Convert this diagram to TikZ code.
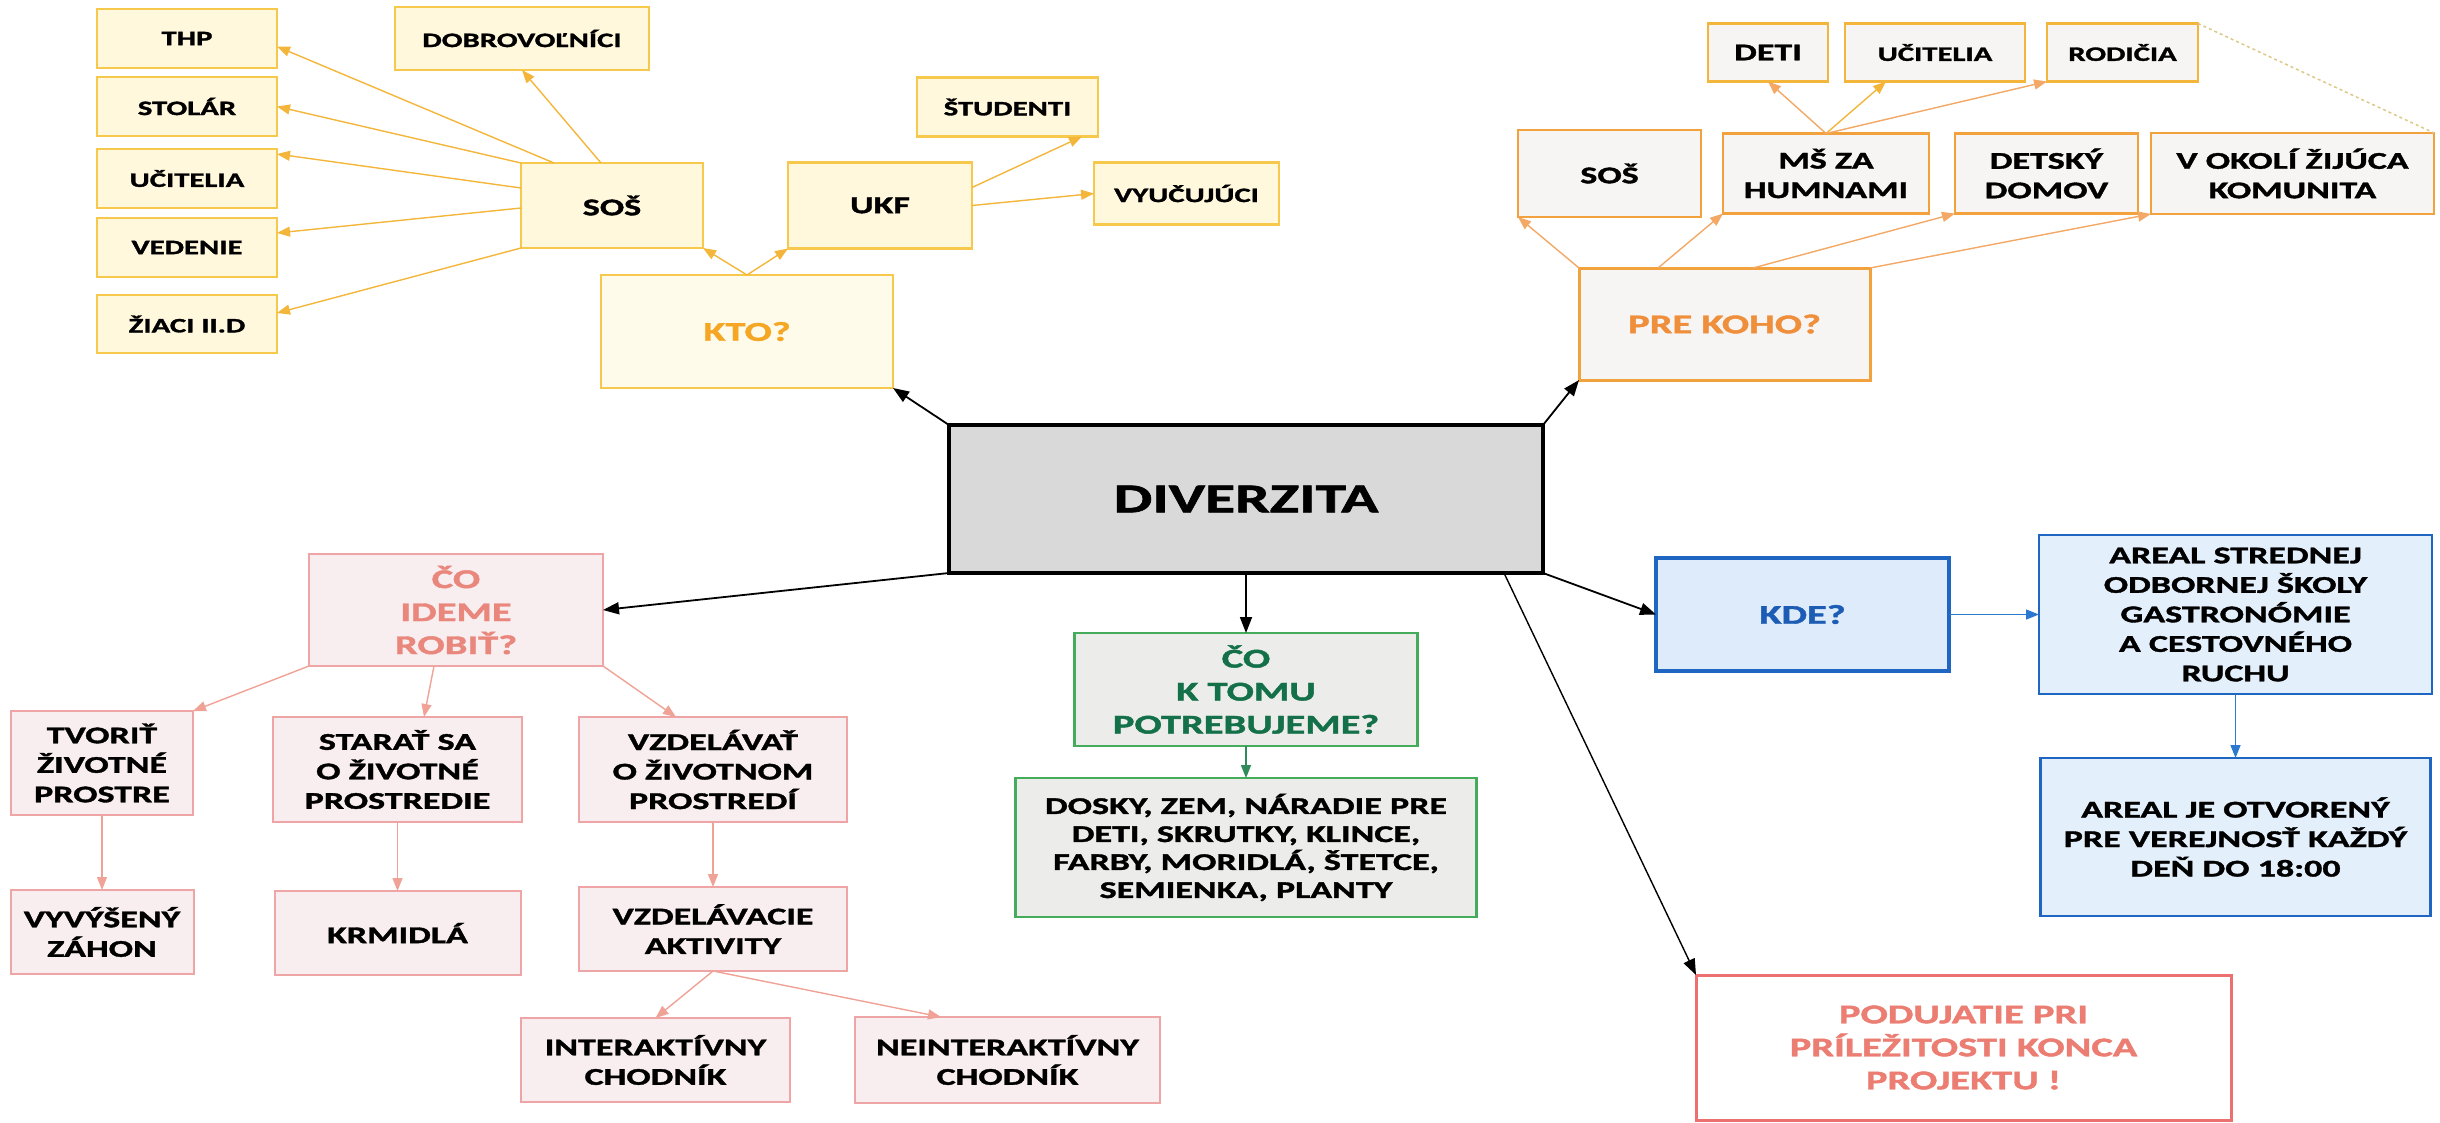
\documentclass[tikz,border=0pt]{standalone}
\usepackage{fontspec}
\setmainfont{Carlito}[FakeStretch=1.5, BoldFeatures={FakeBold=1.5}]
\usepackage{xcolor}
\usepackage{tikz}
\usetikzlibrary{positioning, arrows.meta}

\definecolor{ylwline}{HTML}{F6C94C}
\definecolor{ylwfill}{HTML}{FFF8DD}
\definecolor{ylwarrow}{HTML}{F4B63A}
\definecolor{ktotext}{HTML}{F5A623}
\definecolor{orgline}{HTML}{F2A23C}
\definecolor{orgfill}{HTML}{F7F5F3}
\definecolor{orgarrow}{HTML}{F3A865}
\definecolor{orgtext}{HTML}{EF8F3C}
\definecolor{pnkline}{HTML}{EFA5A5}
\definecolor{pnkfill}{HTML}{F8EDEF}
\definecolor{pnkarrow}{HTML}{F0A296}
\definecolor{pnktext}{HTML}{EA877D}
\definecolor{grnline}{HTML}{45AC5C}
\definecolor{grnfill}{HTML}{ECECEA}
\definecolor{grntext}{HTML}{137049}
\definecolor{grnarrow}{HTML}{2E8B5A}
\definecolor{bluline}{HTML}{1F66C2}
\definecolor{blufill}{HTML}{DDEBFB}
\definecolor{blutext}{HTML}{1C5CB4}
\definecolor{bluarrow}{HTML}{2A78D0}
\definecolor{redline}{HTML}{EC7070}
\definecolor{redtext}{HTML}{EC7D72}
\definecolor{dashline}{HTML}{DCC987}
\definecolor{divfill}{HTML}{D9D9D9}

\begin{document}
\begin{tikzpicture}[
    x=1pt, y=1pt,
    every node/.style={rectangle, draw, align=center, inner sep=2pt, outer sep=0pt,
        font=\bfseries\fontsize{24}{29.5}\selectfont},
    wh/.style 2 args={minimum width=#1pt, minimum height=#2pt},
    small/.style={font=\bfseries\fontsize{20.5}{25}\selectfont},
    big/.style={font=\bfseries\fontsize{27}{33}\selectfont},
    ylw/.style={draw=ylwline, fill=ylwfill, line width=2.5pt},
    org/.style={draw=orgline, fill=orgfill, line width=2.5pt},
    pnk/.style={draw=pnkline, fill=pnkfill, line width=2pt},
    grn/.style={draw=grnline, fill=grnfill, line width=2.5pt},
    blu/.style={draw=bluline, fill=blufill, line width=2.5pt},
    arrow/.style={-{Triangle[length=16pt, width=12pt]}, line width=1.8pt},
    thin arrow/.style={-{Triangle[length=13pt, width=10pt]}, line width=1.4pt}
]
\useasboundingbox (0,0) rectangle (2440,-1122);
\node[wh={594}{148}, line width=4pt, fill=divfill, font=\bfseries\fontsize{41}{48}\selectfont] (diverzita) at (1246,-499) {DIVERZITA};

% kto
\node[ylw, big, wh={292}{113}, text=ktotext, fill=ylwfill!60] (kto) [above left=37pt and 56pt of diverzita] {KTO?};
\node[ylw, wh={182}{85}] (sosl) [above left=27pt and -102pt of kto] {SOŠ};
\node[ylw, wh={184}{86}] (ukf) [right=85pt of sosl] {UKF};
\node[ylw, small, wh={181}{59}] (studenti) [above right=26pt and -55pt of ukf] {ŠTUDENTI};
\node[ylw, small, wh={185}{62}] (vyucujuci) [below right=-86pt and 122pt of ukf] {VYUČUJÚCI};
\node[ylw, small, wh={180}{58}] (ziaci) [below left=47pt and 244pt of sosl] {ŽIACI II.D};
\node[ylw, small, wh={180}{59}] (vedenie) [above=18pt of ziaci] {VEDENIE};
\node[ylw, small, wh={180}{59}] (ucitelial) [above=10pt of vedenie] {UČITELIA};
\node[ylw, small, wh={180}{59}] (stolar) [above=13pt of ucitelial] {STOLÁR};
\node[ylw, small, wh={180}{59}] (thp) [above=9pt of stolar] {THP};
\node[ylw, small, wh={254}{63}] (dobrov) [above left=93pt and -128pt of sosl] {DOBROVOĽNÍCI};

% pre koho
\node[org, big, wh={291}{112}, text=orgtext, line width=3pt] (prekoho) [above right=45pt and 36pt of diverzita] {PRE KOHO?};
\node[org, wh={183}{87}] (sosr) [above left=51pt and -122pt of prekoho] {SOŠ};
\node[org, wh={206}{80}] (ms) [right=22pt of sosr] {MŠ ZA\\HUMNAMI};
\node[org, wh={183}{80}] (detsky) [right=26pt of ms] {DETSKÝ\\DOMOV};
\node[org, wh={283}{81}] (vokoli) [right=13pt of detsky] {V OKOLÍ ŽIJÚCA\\KOMUNITA};
\node[org, draw=ylwarrow, wh={120}{58}] (deti) [above left=52pt and -105pt of ms] {DETI};
\node[org, draw=ylwarrow, small, wh={180}{58}] (ucitelar) [right=17pt of deti] {UČITELIA};
\node[org, draw=ylwarrow, small, wh={151}{58}] (rodicia) [right=22pt of ucitelar] {RODIČIA};

% co ideme robit
\node[pnk, big, wh={294}{112}, text=pnktext] (coideme) [below left=-19pt and 346pt of diverzita] {ČO\\IDEME\\ROBIŤ?};
\node[pnk, wh={182}{104}] (tvorit) [below left=45pt and 116pt of coideme] {TVORIŤ\\ŽIVOTNÉ\\PROSTRE};
\node[pnk, wh={249}{105}] (starat) [below left=51pt and -213pt of coideme] {STARAŤ SA\\O ŽIVOTNÉ\\PROSTREDIE};
\node[pnk, wh={268}{105}] (vzdelavat) [right=57pt of starat] {VZDELÁVAŤ\\O ŽIVOTNOM\\PROSTREDÍ};
\node[pnk, wh={183}{84}] (vyvyseny) [below=75pt of tvorit] {VYVÝŠENÝ\\ZÁHON};
\node[pnk, wh={246}{84}] (krmidla) [below=69pt of starat] {KRMIDLÁ};
\node[pnk, wh={268}{84}] (vzdelavacie) [below=65pt of vzdelavat] {VZDELÁVACIE\\AKTIVITY};
\node[pnk, wh={269}{84}] (interakt) [below left=47pt and -211pt of vzdelavacie] {INTERAKTÍVNY\\CHODNÍK};
\node[pnk, wh={305}{86}] (neint) [right=65pt of interakt] {NEINTERAKTÍVNY\\CHODNÍK};

% co k tomu
\node[grn, big, wh={343}{113}, text=grntext] (cotomu) [below=60pt of diverzita] {ČO\\K TOMU\\POTREBUJEME?};
\node[grn, wh={461}{139}, font=\bfseries\fontsize{24}{28}\selectfont] (dosky) [below=32pt of cotomu] {DOSKY, ZEM, NÁRADIE PRE\\DETI, SKRUTKY, KLINCE,\\FARBY, MORIDLÁ, ŠTETCE,\\SEMIENKA, PLANTY};

% kde
\node[blu, big, wh={293}{113}, text=blutext, line width=4pt] (kde) [below right=-15pt and 113pt of diverzita] {KDE?};
\node[blu, wh={393}{159}, fill=blufill!80] (areals) [right=90pt of kde] {AREAL STREDNEJ\\ODBORNEJ ŠKOLY\\GASTRONÓMIE\\A CESTOVNÉHO\\RUCHU};
\node[blu, wh={390}{158}, fill=blufill!80] (arealje) [below=64pt of areals] {AREAL JE OTVORENÝ\\PRE VEREJNOSŤ KAŽDÝ\\DEŇ DO 18:00};

% podujatie
\node[big, wh={535}{145}, draw=redline, fill=white, text=redtext, line width=3pt] (podujatie) [below right=402pt and 153pt of diverzita] {PODUJATIE PRI\\PRÍLEŽITOSTI KONCA\\PROJEKTU !};

\draw [arrow] (diverzita.north west) -- (kto.south east);
\draw [arrow] (diverzita.north east) -- (prekoho.south west);
\draw [arrow] (diverzita.south west) -- (coideme.east);
\draw [arrow] (diverzita.south) -- (cotomu.north);
\draw [arrow] (diverzita.south east) -- (kde.west);
\draw [arrow, line width=1.4pt] ([xshift=-39pt]diverzita.south east) -- (podujatie.north west);

\draw [thin arrow, ylwarrow] (kto.north) -- (sosl.south east);
\draw [thin arrow, ylwarrow] (kto.north) -- (ukf.south west);
\draw [thin arrow, ylwarrow] ([xshift=33pt]sosl.north west) -- ([yshift=-8pt]thp.east);
\draw [thin arrow, ylwarrow] ([xshift=80pt]sosl.north west) -- (dobrov.south);
\draw [thin arrow, ylwarrow] (sosl.north west) -- (stolar.east);
\draw [thin arrow, ylwarrow] ([yshift=-25pt]sosl.north west) -- ([yshift=-5pt]ucitelial.north east);
\draw [thin arrow, ylwarrow] ([yshift=-45pt]sosl.north west) -- ([yshift=-15pt]vedenie.north east);
\draw [thin arrow, ylwarrow] (sosl.south west) -- ([yshift=-18pt]ziaci.north east);
\draw [thin arrow, ylwarrow] ([yshift=-25pt]ukf.north east) -- ([xshift=-16pt]studenti.south east);
\draw [thin arrow, ylwarrow] (ukf.east) -- (vyucujuci.west);

\draw [thin arrow, orgarrow] (prekoho.north west) -- (sosr.south west);
\draw [thin arrow, orgarrow] ([xshift=79pt]prekoho.north west) -- (ms.south west);
\draw [thin arrow, orgarrow] ([xshift=174pt]prekoho.north west) -- (detsky.south west);
\draw [thin arrow, orgarrow] (prekoho.north east) -- (vokoli.south west);
\draw [thin arrow, orgarrow] (ms.north) -- (deti.south);
\draw [thin arrow, ylwarrow] (ms.north) -- ([xshift=41pt]ucitelar.south west);
\draw [thin arrow, orgarrow] (ms.north) -- (rodicia.south west);
\draw [dashline, dashed, line width=1.5pt] (rodicia.north east) -- (vokoli.north east);

\draw [thin arrow, pnkarrow] (coideme.south west) -- (tvorit.north east);
\draw [thin arrow, pnkarrow] ([xshift=125pt]coideme.south west) -- ([xshift=151pt]starat.north west);
\draw [thin arrow, pnkarrow] (coideme.south east) -- ([xshift=97pt]vzdelavat.north west);
\draw [thin arrow, pnkarrow] (tvorit.south) -- (vyvyseny.north);
\draw [thin arrow, pnkarrow] (starat.south) -- (krmidla.north);
\draw [thin arrow, pnkarrow] (vzdelavat.south) -- (vzdelavacie.north);
\draw [thin arrow, pnkarrow] (vzdelavacie.south) -- (interakt.north);
\draw [thin arrow, pnkarrow] (vzdelavacie.south) -- ([xshift=86pt]neint.north west);

\draw [thin arrow, grnarrow] (cotomu.south) -- (dosky.north);

\draw [thin arrow, bluarrow] (kde.east) -- (areals.west);
\draw [thin arrow, bluarrow] (areals.south) -- (arealje.north);

\end{tikzpicture}
\end{document}
